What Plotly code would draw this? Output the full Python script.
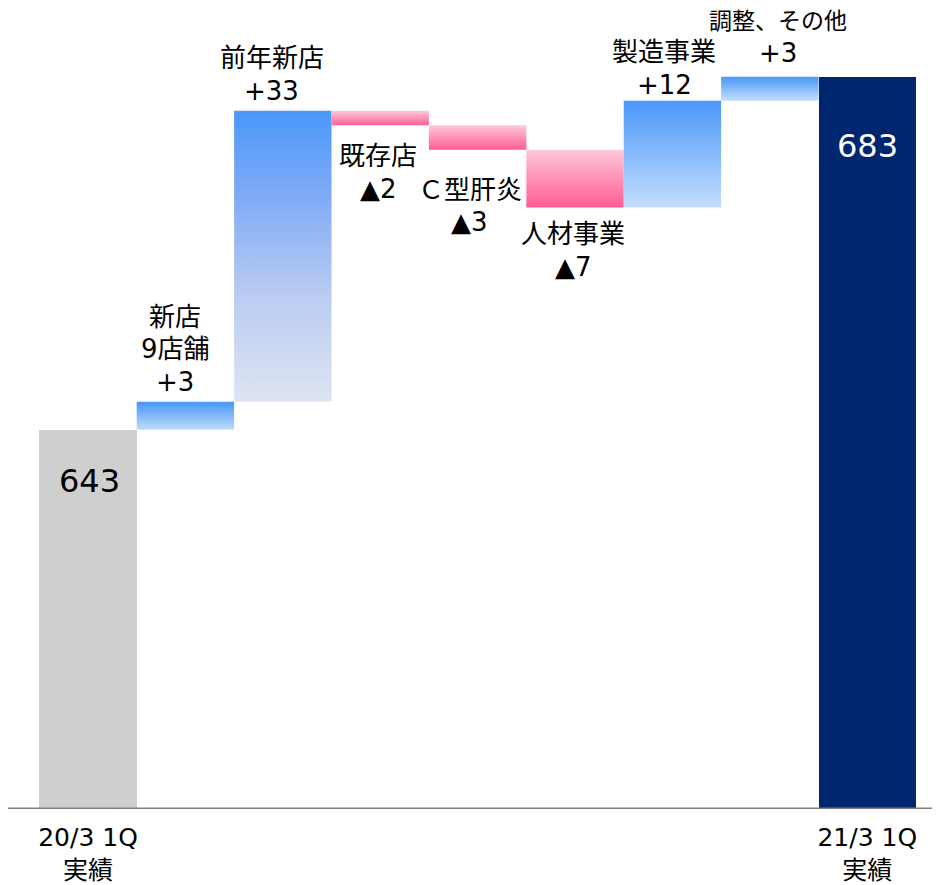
import plotly.graph_objects as go

# ---- data ----
start_label = "20/3 1Q<br>実績"
end_label = "21/3 1Q<br>実績"
start_value = 643
end_value = 683
step_names = [["新店", "9店舗"], ["前年新店"], ["既存店"], ["Ｃ型肝炎"], ["人材事業"], ["製造事業"], ["調整、その他"]]
step_deltas = [3.17, 32.98, -1.65, -2.77, -6.54, 12.11, 2.70]
step_texts = ["+3", "+33", "▲2", "▲3", "▲7", "+12", "+3"]
axis_floor = 600

# ---- styles ----
FONT = "DejaVu Sans, Noto Sans CJK JP, sans-serif"
BLUE_TOP = "#4A98FA"
BLUE_BOT = "#C4DEFC"
PINK_TOP = "#FDC7DB"
PINK_BOT = "#FF5B93"
GRAY = "#D0CFD0"
NAVY = "#00266F"
LINE_GAP = 32.5
label_xshift = [-10, -11, -2, -8, -2, -8, 8]
label_gap = [20, 20, 31, 40, 27, 16, 24]   # px between bar edge and nearest text line centre
name_size = [26, 26, 26, 26, 26, 26, 23]
name_gap_extra = [0, 0, 0, 0, 0, 0, -1]

W, H = 932, 877

fig = go.Figure()

n = len(step_deltas)
cats = list(range(n + 2))

# totals
fig.add_trace(go.Bar(
    x=[cats[0], cats[-1]], y=[start_value, end_value],
    width=1.0, marker=dict(color=[GRAY, NAVY], line=dict(width=0)),
    hoverinfo="skip", showlegend=False))

level = start_value
annotations = []
for i, d in enumerate(step_deltas):
    xi = cats[i + 1]
    lo, hi = (level, level + d) if d >= 0 else (level + d, level)
    if d >= 0:
        if abs(d) > 20:
            cs = [[0, "#DEE4F2"], [0.35, "#BCCDF1"], [0.7, "#82ABF6"], [1, BLUE_TOP]]
        else:
            cs = [[0, BLUE_BOT], [1, BLUE_TOP]]
    else:
        cs = [[0, PINK_BOT], [1, PINK_TOP]]
    fig.add_trace(go.Scatter(
        x=[xi - 0.5, xi + 0.5, xi + 0.5, xi - 0.5, xi - 0.5],
        y=[lo, lo, hi, hi, lo],
        mode="lines", line=dict(width=0), fill="toself",
        fillgradient=dict(type="vertical", colorscale=cs, start=lo, stop=hi),
        hoverinfo="skip", showlegend=False))
    lines = step_names[i] + [step_texts[i]]
    m = len(lines)
    for j, t in enumerate(lines):
        is_name = j < m - 1
        size = name_size[i] if is_name else 26
        extra = name_gap_extra[i] if is_name else 0
        if d >= 0:
            ys, yy = label_gap[i] + (m - 1 - j) * (LINE_GAP + extra), hi
        else:
            ys, yy = -(label_gap[i] + j * LINE_GAP), lo
        annotations.append(dict(
            x=xi, y=yy, xref="x", yref="y", yanchor="middle",
            text=t, showarrow=False,
            font=dict(family=FONT, size=size, color="black"),
            xshift=label_xshift[i], yshift=ys))
    level += d

annotations.append(dict(x=cats[0], y=start_value, xref="x", yref="y",
                        yanchor="middle", yshift=-51, xshift=1,
                        text=str(start_value), showarrow=False,
                        font=dict(family=FONT, size=32, color="black")))
annotations.append(dict(x=cats[-1], y=end_value, xref="x", yref="y",
                        yanchor="middle", yshift=-69,
                        text=str(end_value), showarrow=False,
                        font=dict(family=FONT, size=32, color="white")))

fig.add_shape(type="line", xref="paper", yref="y", x0=0, x1=1,
              y0=axis_floor, y1=axis_floor, line=dict(color="#808080", width=3))

fig.update_layout(
    width=W, height=H,
    margin=dict(l=0, r=0, t=0, b=74),
    paper_bgcolor="white", plot_bgcolor="white",
    bargap=0, showlegend=False,
    annotations=annotations,
    font=dict(family=FONT),
)
fig.update_xaxes(range=[-0.8214, 8.747], tickmode="array",
                 tickvals=[cats[0], cats[-1]], ticktext=[start_label, end_label],
                 tickfont=dict(family=FONT, size=25, color="black"),
                 ticklabelstandoff=11,
                 showgrid=False, zeroline=False, showline=False, ticks="")
fig.update_yaxes(range=[axis_floor, 690.8], visible=False, showgrid=False,
                 zeroline=False)

fig.write_html("out.html")
